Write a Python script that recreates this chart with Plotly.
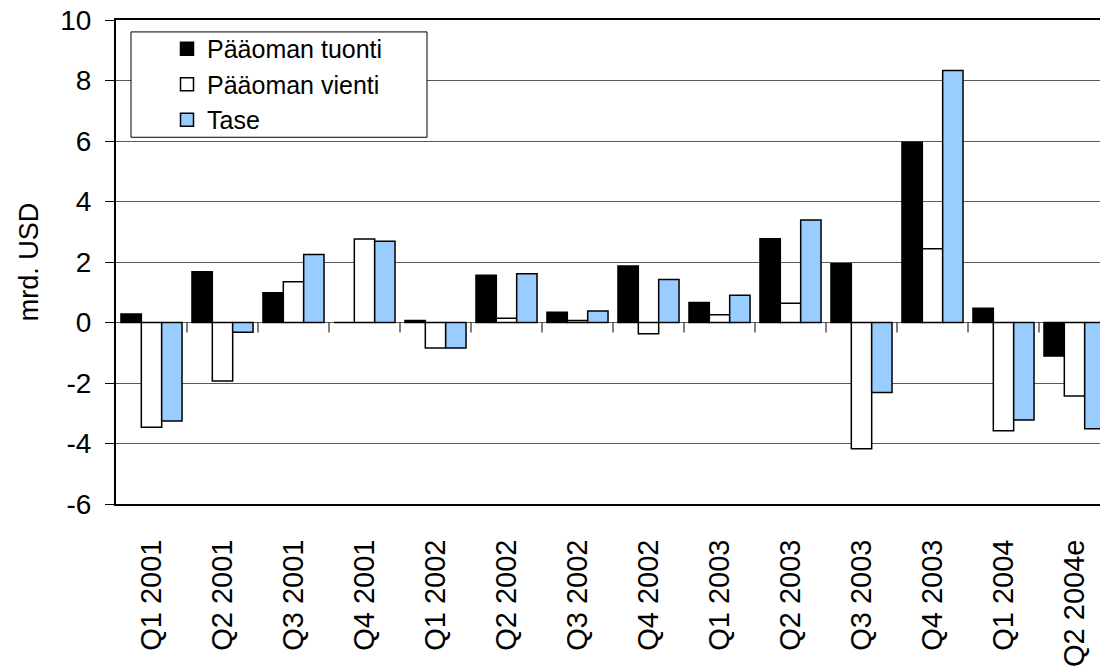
import plotly.graph_objects as go

# Quarterly capital flows (bn USD)
quarters = ["Q1 2001", "Q2 2001", "Q3 2001", "Q4 2001",
            "Q1 2002", "Q2 2002", "Q3 2002", "Q4 2002",
            "Q1 2003", "Q2 2003", "Q3 2003", "Q4 2003",
            "Q1 2004", "Q2 2004e"]
tuonti = [0.28, 1.68, 0.98, 0.0, 0.07, 1.56, 0.34, 1.87, 0.66, 2.77, 1.94, 5.96, 0.47, -1.11]
vienti = [-3.46, -1.93, 1.35, 2.76, -0.84, 0.14, 0.07, -0.37, 0.26, 0.64, -4.17, 2.44, -3.58, -2.43]
tase = [-3.26, -0.32, 2.25, 2.69, -0.84, 1.61, 0.38, 1.42, 0.90, 3.39, -2.31, 8.33, -3.22, -3.51]

series_names = ["Pääoman tuonti", "Pääoman vienti", "Tase"]
series_fills = ["#000000", "#FFFFFF", "#99CCFF"]
y_ticks = [-6, -4, -2, 0, 2, 4, 6, 8, 10]
y_tick_labels = ["-6", "-4", "-2", "0", "2", "4", "6", "8", "10"]

FONT = "Liberation Sans, Arial, sans-serif"
W, H = 1100, 667
ML, MR, MT, MB = 116, 0, 20, 160

fig = go.Figure()
for name, vals, fill in zip(series_names, [tuonti, vienti, tase], series_fills):
    fig.add_trace(go.Bar(
        x=quarters, y=vals, name=name, showlegend=False,
        marker=dict(color=fill, line=dict(color="#000000", width=1.5)),
    ))

# legend keys: square swatches with a black outline
for name, fill in zip(series_names, series_fills):
    fig.add_trace(go.Scatter(
        x=[None], y=[None], mode="markers", name=name,
        marker=dict(symbol="square", size=13, color=fill,
                    line=dict(color="#000000", width=1.5)),
    ))

# small tick marks on the zero line at the category boundaries
shapes = []
for i in range(len(quarters)):
    shapes.append(dict(
        type="line", xref="x", yref="y",
        x0=i + 0.5, x1=i + 0.5,
        ysizemode="pixel", yanchor=0, y0=0, y1=-10,
        line=dict(color="#000000", width=1),
    ))

# legend frame
pw = W - ML - MR
ph = H - MT - MB
def px_x(px):
    return (px - ML) / pw
def px_y(py):
    return (H - MB - py) / ph

shapes.append(dict(
    type="rect", xref="paper", yref="paper",
    x0=px_x(131), x1=px_x(427), y0=px_y(138), y1=px_y(32),
    fillcolor="#FFFFFF", line=dict(color="#000000", width=1),
    layer="above",
))

fig.update_layout(
    width=W, height=H,
    margin=dict(l=ML, r=MR, t=MT, b=MB, pad=0),
    paper_bgcolor="#FFFFFF", plot_bgcolor="#FFFFFF",
    font=dict(family=FONT, color="#000000"),
    barmode="group", bargap=0.14, bargroupgap=0,
    showlegend=True,
    legend=dict(
        x=px_x(167), y=px_y(26), xanchor="left", yanchor="top",
        bgcolor="rgba(0,0,0,0)", borderwidth=0,
        font=dict(family=FONT, size=25, color="#000000"),
        tracegroupgap=0,
    ),
    shapes=shapes,
)

fig.update_xaxes(
    type="category",
    range=[-0.5, -0.5 + pw / 71.0],
    tickangle=-90,
    tickfont=dict(family=FONT, size=29, color="#000000"),
    ticks="",
    ticklabelstandoff=22,
    showgrid=False,
    showline=True, linecolor="#000000", linewidth=2, mirror=True,
    zeroline=False,
)

fig.update_yaxes(
    range=[-6, 10],
    tickmode="array", tickvals=y_ticks, ticktext=y_tick_labels,
    tickfont=dict(family=FONT, size=28, color="#000000"),
    ticks="outside", ticklen=9, tickcolor="#000000", tickwidth=1,
    ticklabelstandoff=8,
    showgrid=True, gridcolor="#5a5a5a", gridwidth=1,
    showline=True, linecolor="#000000", linewidth=2, mirror=False,
    zeroline=False,
    title=dict(text="mrd. USD", font=dict(family=FONT, size=27, color="#000000"),
               standoff=14),
)

fig.write_html("out.html")
